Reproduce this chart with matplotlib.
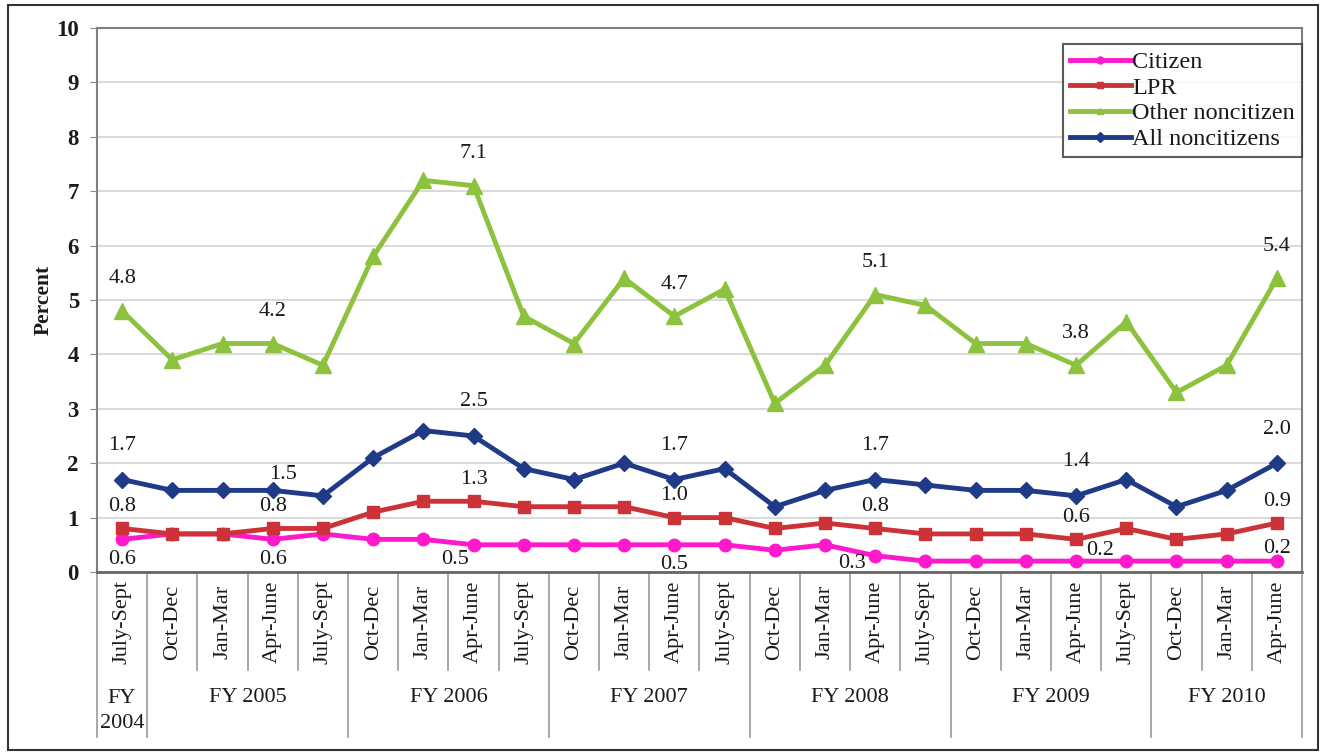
import matplotlib
matplotlib.use("Agg")
import matplotlib.pyplot as plt
from matplotlib.patches import Rectangle

# --- DATA ---
quarters = ["July-Sept",
            "Oct-Dec", "Jan-Mar", "Apr-June", "July-Sept",
            "Oct-Dec", "Jan-Mar", "Apr-June", "July-Sept",
            "Oct-Dec", "Jan-Mar", "Apr-June", "July-Sept",
            "Oct-Dec", "Jan-Mar", "Apr-June", "July-Sept",
            "Oct-Dec", "Jan-Mar", "Apr-June", "July-Sept",
            "Oct-Dec", "Jan-Mar", "Apr-June"]
fiscal_years = ["FY\n2004", "FY 2005", "FY 2006", "FY 2007", "FY 2008", "FY 2009", "FY 2010"]
fy_sizes = [1, 4, 4, 4, 4, 4, 3]

citizen = [0.6, 0.7, 0.7, 0.6, 0.7, 0.6, 0.6, 0.5, 0.5, 0.5, 0.5, 0.5,
           0.5, 0.4, 0.5, 0.3, 0.2, 0.2, 0.2, 0.2, 0.2, 0.2, 0.2, 0.2]
lpr = [0.8, 0.7, 0.7, 0.8, 0.8, 1.1, 1.3, 1.3, 1.2, 1.2, 1.2, 1.0,
       1.0, 0.8, 0.9, 0.8, 0.7, 0.7, 0.7, 0.6, 0.8, 0.6, 0.7, 0.9]
other_noncitizen = [4.8, 3.9, 4.2, 4.2, 3.8, 5.8, 7.2, 7.1, 4.7, 4.2, 5.4, 4.7,
                    5.2, 3.1, 3.8, 5.1, 4.9, 4.2, 4.2, 3.8, 4.6, 3.3, 3.8, 5.4]
all_noncitizens = [1.7, 1.5, 1.5, 1.5, 1.4, 2.1, 2.6, 2.5, 1.9, 1.7, 2.0, 1.7,
                   1.9, 1.2, 1.5, 1.7, 1.6, 1.5, 1.5, 1.4, 1.7, 1.2, 1.5, 2.0]

labeled_idx = [0, 3, 7, 11, 15, 19, 23]

# --- STYLE ---
SERIF = ["Liberation Serif", "DejaVu Serif"]
TXT = "#1a1a1a"
series = [
    ("Citizen", citizen, "#FF19CC", "o", 9),
    ("LPR", lpr, "#CC3338", "s", 9),
    ("Other noncitizen", other_noncitizen, "#8DC23F", "^", 12),
    ("All noncitizens", all_noncitizens, "#1F3A86", "D", 8),
]
# default label offsets (pixels) per series, plus a few hand-placed ones
label_offset = {"Citizen": (0, -20), "LPR": (0, 22),
                "Other noncitizen": (0, 32), "All noncitizens": (0, 34)}
special_offset = {("All noncitizens", 3): (10, 16),
                  ("Citizen", 7): (-19, -15),
                  ("Citizen", 15): (-23, -8),
                  ("Citizen", 19): (24, 11),
                  ("Citizen", 23): (0, 13)}

W, H = 1325, 752
fig = plt.figure(figsize=(W / 100, H / 100), dpi=100)
fig.patches.append(Rectangle((8 / W, 1 - 750 / H), 1310 / W, 745 / H, transform=fig.transFigure,
                             fill=False, edgecolor="#333333", linewidth=1.5))

ax = fig.add_axes([97 / W, 1 - 572 / H, 1205 / W, 544 / H])
x = list(range(len(quarters)))

lines = []
for name, vals, color, marker, ms in series:
    ln, = ax.plot(x, vals, color=color, linewidth=3.5, marker=marker, markersize=ms,
                  markerfacecolor=color, markeredgecolor=color, label=name, zorder=3)
    lines.append(ln)
    for i in labeled_idx:
        dx, dy = special_offset.get((name, i), label_offset[name])
        ax.annotate(f"{vals[i]:.1f}", (i, vals[i]), xytext=(dx * 0.72, dy * 0.72),
                    textcoords="offset points", ha="center", va="center",
                    fontsize=16, family=SERIF, color=TXT, zorder=4)

ax.set_xlim(-0.5, len(quarters) - 0.5)
ax.set_ylim(0, 10)
ax.set_yticks(range(0, 11))
ax.set_yticklabels([str(v) for v in range(0, 11)], family=SERIF, fontsize=16.5,
                   fontweight="bold", color=TXT)
ax.tick_params(axis="y", length=5, color="#888888", pad=8)
ax.set_xticks([])
ax.grid(axis="y", color="#DADADA", linewidth=1.5, zorder=0)
ax.set_axisbelow(True)
for sp in ax.spines.values():
    sp.set_color("#808080")
    sp.set_linewidth(1.5)
ax.spines["bottom"].set_color("#666666")
ax.spines["bottom"].set_linewidth(2)

ax.set_ylabel("Percent", family=SERIF, fontsize=15.5, fontweight="bold", labelpad=2, color=TXT)

# category axis: quarter labels, separators, fiscal year groups
trans = ax.get_xaxis_transform()
for i, q in enumerate(quarters):
    ax.text(i, -0.092, q, transform=trans, rotation=90, ha="center", va="center",
            fontsize=16, family=SERIF, color=TXT)
group_edges = [-0.5]
for n in fy_sizes:
    group_edges.append(group_edges[-1] + n)
for b in range(len(quarters) + 1):
    edge = b - 0.5
    y_end = -0.303 if edge in group_edges else -0.180
    ax.plot([edge, edge], [0, y_end], transform=trans, color="#999999",
            linewidth=1.2, clip_on=False)
for k, fy in enumerate(fiscal_years):
    center = (group_edges[k] + group_edges[k + 1]) / 2
    if "\n" in fy:
        ax.text(center, -0.215, fy, transform=trans, ha="center", va="top",
                fontsize=16, family=SERIF, color=TXT, linespacing=1.45)
    else:
        ax.text(center, -0.23, fy, transform=trans, ha="center", va="center",
                fontsize=16, family=SERIF, color=TXT)

leg = ax.legend(handles=lines, loc="upper right", bbox_to_anchor=(1.0, 0.971),
                prop={"family": SERIF, "size": 17.5}, frameon=True, fancybox=False,
                handlelength=2.5, handletextpad=0.05, labelspacing=0.15,
                borderpad=0.3, borderaxespad=0)
leg.get_frame().set_edgecolor("#333333")
leg.get_frame().set_linewidth(1.5)
for t in leg.get_texts():
    t.set_color(TXT)
for h in leg.legend_handles:
    h.set_markersize(5)

fig.savefig("out.png", dpi=100)
